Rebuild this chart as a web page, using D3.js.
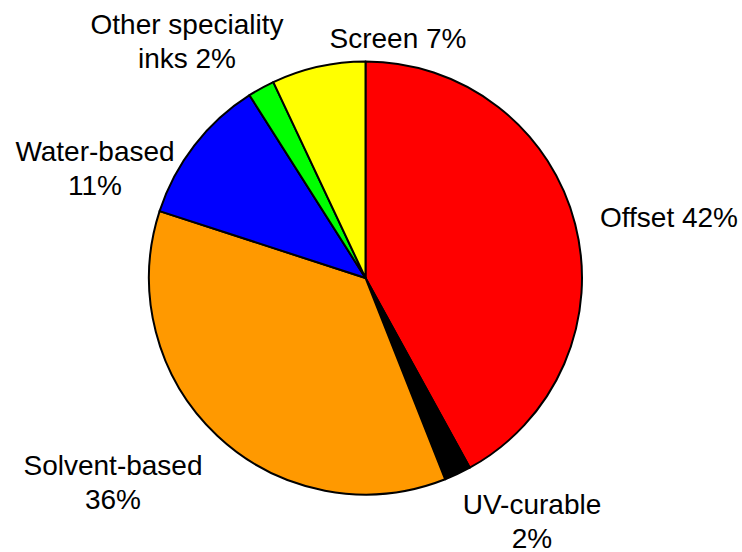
<!DOCTYPE html>
<html>
<head>
<meta charset="utf-8">
<script src="https://cdn.jsdelivr.net/npm/d3@7"></script>
<style>
  html, body { margin: 0; padding: 0; background: #ffffff; }
  svg { display: block; }
</style>
</head>
<body>
<svg id="chart" width="742" height="552"></svg>
<script>
// ---- data ----
const categories = ["Offset", "UV-curable", "Solvent-based", "Water-based", "Other speciality inks", "Screen"];
const shares = [42, 2, 36, 11, 2, 7];
const labelLines = [
  ["Offset 42%"],
  ["UV-curable", "2%"],
  ["Solvent-based", "36%"],
  ["Water-based", "11%"],
  ["Other speciality", "inks 2%"],
  ["Screen 7%"]
];

// ---- layout / style ----
const colors = ["#FF0000", "#000000", "#FF9900", "#0000FF", "#00FF00", "#FFFF00"];
const cx = 365.5, cy = 278, radius = 216.5;
const fontSize = 28, lineHeight = 33.5;
// label anchors (centre x, first baseline y)
const labelAnchors = [[669, 227], [532, 514], [113, 475], [95, 161], [187, 34], [398, 48]];

const svg = d3.select("#chart");
const g = svg.append("g").attr("transform", `translate(${cx},${cy})`);

const pie = d3.pie().sort(null).value(d => d.v);
const arc = d3.arc().innerRadius(0).outerRadius(radius);
const data = categories.map((c, i) => ({ c, v: shares[i], i }));

g.selectAll("path.slice")
  .data(pie(data))
  .join("path")
  .attr("class", "slice")
  .attr("d", arc)
  .attr("fill", d => colors[d.data.i])
  .attr("stroke", "#000")
  .attr("stroke-width", 2)
  .attr("stroke-linejoin", "round");

const labels = svg.append("g")
  .attr("font-family", "'Liberation Sans', Arial, Helvetica, sans-serif")
  .attr("font-size", fontSize)
  .attr("fill", "#000")
  .attr("text-anchor", "middle");

labelLines.forEach((lines, i) => {
  const [x, y] = labelAnchors[i];
  const t = labels.append("text").attr("x", x).attr("y", y);
  lines.forEach((ln, j) => {
    t.append("tspan").attr("x", x).attr("y", y + j * lineHeight).text(ln);
  });
});
</script>
</body>
</html>
